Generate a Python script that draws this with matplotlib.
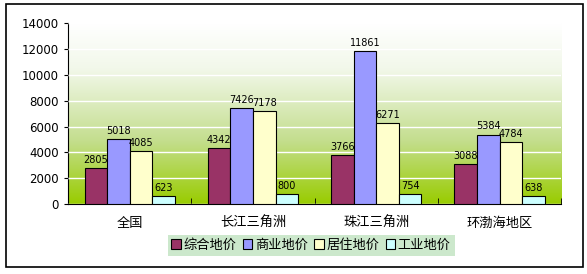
import numpy as np
import matplotlib.pyplot as plt
from matplotlib.colors import LinearSegmentedColormap

plt.rcParams['font.family'] = ['Noto Sans CJK SC', 'DejaVu Sans']

regions = ['全国', '长江三角洲', '珠江三角洲', '环渤海地区']
series = ['综合地价', '商业地价', '居住地价', '工业地价']
zonghe = [2805, 4342, 3766, 3088]
shangye = [5018, 7426, 11861, 5384]
juzhu = [4085, 7178, 6271, 4784]
gongye = [623, 800, 754, 638]
colors = ['#993366', '#9999FF', '#FFFFCC', '#CCFFFF']

fig = plt.figure(figsize=(5.87, 2.74), dpi=100)
# outer frame
fig.patches.append(plt.Rectangle((0.010, 0.025), 0.983, 0.96, transform=fig.transFigure,
                                 fill=False, edgecolor='black', linewidth=1.2))
ax = fig.add_axes([0.116, 0.255, 0.840, 0.66])

# green gradient background
grad = LinearSegmentedColormap.from_list('g', [(0, '#99CC00'), (0.35, '#C4DE8E'),
                                               (0.75, '#F2F8EA'), (1, '#FFFFFF')])
ax.imshow(np.linspace(0, 1, 256).reshape(-1, 1), aspect='auto', cmap=grad,
          extent=[-0.5, 3.5, 0, 14000], origin='lower', zorder=0)

x = np.arange(len(regions))
w = 0.183
for i, vals in enumerate([zonghe, shangye, juzhu, gongye]):
    pos = x + (i - 1.5) * w
    ax.bar(pos, vals, w, color=colors[i], edgecolor='black', linewidth=0.8,
           label=series[i], zorder=3)
    for p, v in zip(pos, vals):
        ax.text(p, v + 250, str(v), ha='center', va='bottom', fontsize=7,
                family='DejaVu Sans', zorder=4)

ax.set_xlim(-0.5, 3.5)
ax.set_ylim(0, 14000)
ax.set_yticks(range(0, 14001, 2000))
ax.yaxis.grid(True, color='white', linewidth=1)
ax.set_axisbelow(False)
ax.set_xticks(x)
ax.set_xticklabels(regions, fontsize=9.5)
ax.set_xticks(np.arange(-0.5, 3.6, 1), minor=True)
ax.tick_params(axis='x', which='major', length=0, pad=9)
ax.tick_params(axis='x', which='minor', length=4, direction='in')
ax.tick_params(axis='y', labelsize=8.5, length=3, direction='out')
for lab in ax.get_yticklabels():
    lab.set_family('DejaVu Sans')
for s in ['top', 'right']:
    ax.spines[s].set_visible(False)
ax.spines['left'].set_linewidth(0.8)
ax.spines['bottom'].set_linewidth(0.8)

leg = fig.legend(loc='center', bbox_to_anchor=(0.53, 0.105), ncol=4, fontsize=9.5,
                 frameon=True, fancybox=False, handlelength=0.7, handleheight=0.7,
                 handletextpad=0.2, columnspacing=0.5, borderpad=0.3)
leg.get_frame().set_facecolor('#CCE8CC')
leg.get_frame().set_edgecolor('none')
leg.get_frame().set_alpha(1)

fig.savefig('out.png', dpi=100)
